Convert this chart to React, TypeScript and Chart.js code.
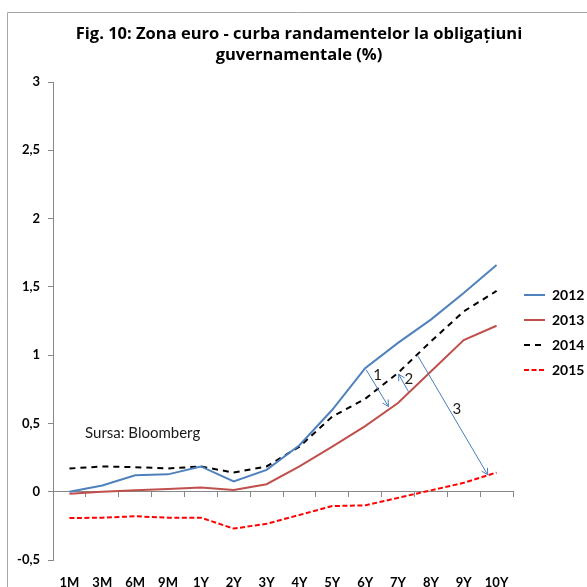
import React, { useEffect, useRef } from 'react';
import { Chart, registerables } from 'chart.js';

Chart.register(...registerables);

const FONT = 'Lato';
const TITLE_FONT = 'Open Sans';

const titleLines = ['Fig. 10: Zona euro - curba randamentelor la obligațiuni', 'guvernamentale (%)'];
const categories = ['1M', '3M', '6M', '9M', '1Y', '2Y', '3Y', '4Y', '5Y', '6Y', '7Y', '8Y', '9Y', '10Y'];
const seriesNames = ['2012', '2013', '2014', '2015'];
const y2012 = [0.0, 0.046, 0.12, 0.127, 0.185, 0.075, 0.16, 0.34, 0.6, 0.905, 1.09, 1.26, 1.455, 1.66];
const y2013 = [-0.015, 0.0, 0.01, 0.02, 0.03, 0.012, 0.055, 0.185, 0.33, 0.48, 0.65, 0.88, 1.11, 1.215];
const y2014 = [0.17, 0.185, 0.18, 0.17, 0.185, 0.14, 0.185, 0.33, 0.55, 0.68, 0.87, 1.1, 1.32, 1.47];
const y2015 = [-0.193, -0.19, -0.18, -0.19, -0.19, -0.27, -0.235, -0.17, -0.105, -0.1, -0.045, 0.01, 0.065, 0.14];
const yTickMin = -0.5;
const yTickMax = 3;
const yTickStep = 0.5;

// annotation arrows in data coordinates: [category index, value]
const arrowFrom = [[9.03, 0.893], [10.32, 0.732], [10.59, 1.0]];
const arrowTo = [[9.71, 0.624], [10.02, 0.86], [12.73, 0.124]];
const arrowLabels = ['1', '2', '3'];
const arrowLabelAt = [[9.38, 0.85], [10.33, 0.825], [11.79, 0.608]];
const sourceText = 'Sursa: Bloomberg';
const sourceAt = [0.475, 0.432];

function fmtTick(v: any) {
  const n = Math.round(Number(v) * 10) / 10;
  return String(n).replace('.', ',');
}

export default function App() {
  const ref = useRef<HTMLCanvasElement>(null);
  useEffect(() => {
    document.body.style.margin = '0';
    const borderPlugin = {
      id: 'outerBorder',
      beforeDraw(chart: any) {
        const ctx = chart.ctx;
        ctx.save();
        ctx.strokeStyle = '#a6a6a6';
        ctx.lineWidth = 1;
        ctx.beginPath();
        ctx.moveTo(7.5, chart.height);
        ctx.lineTo(7.5, 12.5);
        ctx.lineTo(chart.width, 12.5);
        ctx.stroke();
        ctx.restore();
      },
    };
    const annotPlugin = {
      id: 'annot',
      afterDatasetsDraw(chart: any) {
        const ctx = chart.ctx;
        const xs = chart.scales.x;
        const ys = chart.scales.y;
        ctx.save();
        ctx.strokeStyle = '#4a7ebb';
        ctx.lineWidth = 1;
        arrowFrom.forEach((f, i) => {
          const t = arrowTo[i];
          const x1 = xs.getPixelForValue(f[0]);
          const y1 = ys.getPixelForValue(f[1]);
          const x2 = xs.getPixelForValue(t[0]);
          const y2 = ys.getPixelForValue(t[1]);
          ctx.beginPath();
          ctx.moveTo(x1, y1);
          ctx.lineTo(x2, y2);
          const ang = Math.atan2(y2 - y1, x2 - x1);
          const L = 7;
          const a = 0.5;
          ctx.moveTo(x2 - L * Math.cos(ang - a), y2 - L * Math.sin(ang - a));
          ctx.lineTo(x2, y2);
          ctx.lineTo(x2 - L * Math.cos(ang + a), y2 - L * Math.sin(ang + a));
          ctx.stroke();
        });
        ctx.fillStyle = '#1a1a1a';
        ctx.font = `15px ${FONT}`;
        ctx.textAlign = 'center';
        ctx.textBaseline = 'middle';
        arrowLabels.forEach((txt, i) => {
          const p = arrowLabelAt[i];
          ctx.fillText(txt, xs.getPixelForValue(p[0]), ys.getPixelForValue(p[1]));
        });
        ctx.textAlign = 'left';
        ctx.fillText(sourceText, xs.getPixelForValue(sourceAt[0]), ys.getPixelForValue(sourceAt[1]));
        ctx.restore();
      },
    };
    const chart = new Chart(ref.current!, {
      type: 'line',
      data: {
        labels: categories,
        datasets: [
          { label: seriesNames[0], data: y2012, borderColor: '#4f81bd', backgroundColor: '#4f81bd', borderWidth: 2 },
          { label: seriesNames[1], data: y2013, borderColor: '#c0504d', backgroundColor: '#c0504d', borderWidth: 2 },
          { label: seriesNames[2], data: y2014, borderColor: '#000000', backgroundColor: '#000000', borderWidth: 2, borderDash: [6, 5] },
          { label: seriesNames[3], data: y2015, borderColor: '#ff0000', backgroundColor: '#ff0000', borderWidth: 2, borderDash: [5, 2.5] },
        ],
      },
      options: {
        responsive: false,
        animation: false,
        devicePixelRatio: 1,
        elements: { point: { radius: 0, hoverRadius: 0 }, line: { tension: 0 } },
        layout: { padding: { left: 13, right: 2, top: 0, bottom: 0 } },
        plugins: {
          tooltip: { enabled: false },
          title: {
            display: true,
            text: titleLines,
            color: '#000',
            font: { family: TITLE_FONT, size: 16.5, weight: 'bold', lineHeight: 1.273 },
            padding: { top: 24, bottom: 16 },
          },
          legend: {
            position: 'right',
            align: 'center',
            fullSize: false,
            maxWidth: 72,
            title: { display: true, text: '', padding: { top: 22, bottom: 0 }, font: { size: 1, lineHeight: 1 } },
            labels: {
              usePointStyle: true,
              pointStyle: 'line',
              pointStyleWidth: 21,
              color: '#000',
              font: { family: FONT, size: 14, weight: 'bold' },
              padding: 11,
              generateLabels: (c: any) => {
                const items = Chart.defaults.plugins.legend.labels.generateLabels(c);
                items.forEach((it: any) => {
                  const ds: any = c.data.datasets[it.datasetIndex];
                  it.lineDash = ds.borderDash || [];
                  it.lineWidth = ds.borderWidth;
                  it.strokeStyle = ds.borderColor;
                  it.fillStyle = ds.borderColor;
                });
                return items;
              },
            },
          },
        },
        scales: {
          x: {
            type: 'category',
            position: { y: 0 } as any,
            offset: true,
            grid: { drawOnChartArea: false, drawTicks: true, tickLength: 5, color: '#888', offset: true },
            border: { display: true, color: '#888' },
            ticks: { display: false },
          },
          x2: {
            type: 'category',
            labels: categories,
            position: 'bottom',
            offset: true,
            grid: { display: false, drawTicks: false },
            border: { display: false },
            ticks: { color: '#000', font: { family: FONT, size: 13, weight: 'bold' }, padding: 15, maxRotation: 0, autoSkip: false },
            afterFit: (s: any) => { s.height = 27; },
          },
          y: {
            type: 'linear',
            min: yTickMin,
            max: yTickMax,
            grid: { drawOnChartArea: false, tickLength: 5, color: '#888' },
            border: { color: '#888' },
            ticks: {
              stepSize: yTickStep,
              color: '#000',
              font: { family: FONT, size: 13, weight: 'bold' },
              padding: 8,
              callback: (v: any) => fmtTick(v),
            },
            afterFit: (s: any) => { s.width = 40; },
          },
        },
      },
      plugins: [borderPlugin, annotPlugin],
    });
    return () => chart.destroy();
  }, []);
  return <canvas ref={ref} width={587} height={587} style={{ display: 'block', width: 587, height: 587 }} />;
}
